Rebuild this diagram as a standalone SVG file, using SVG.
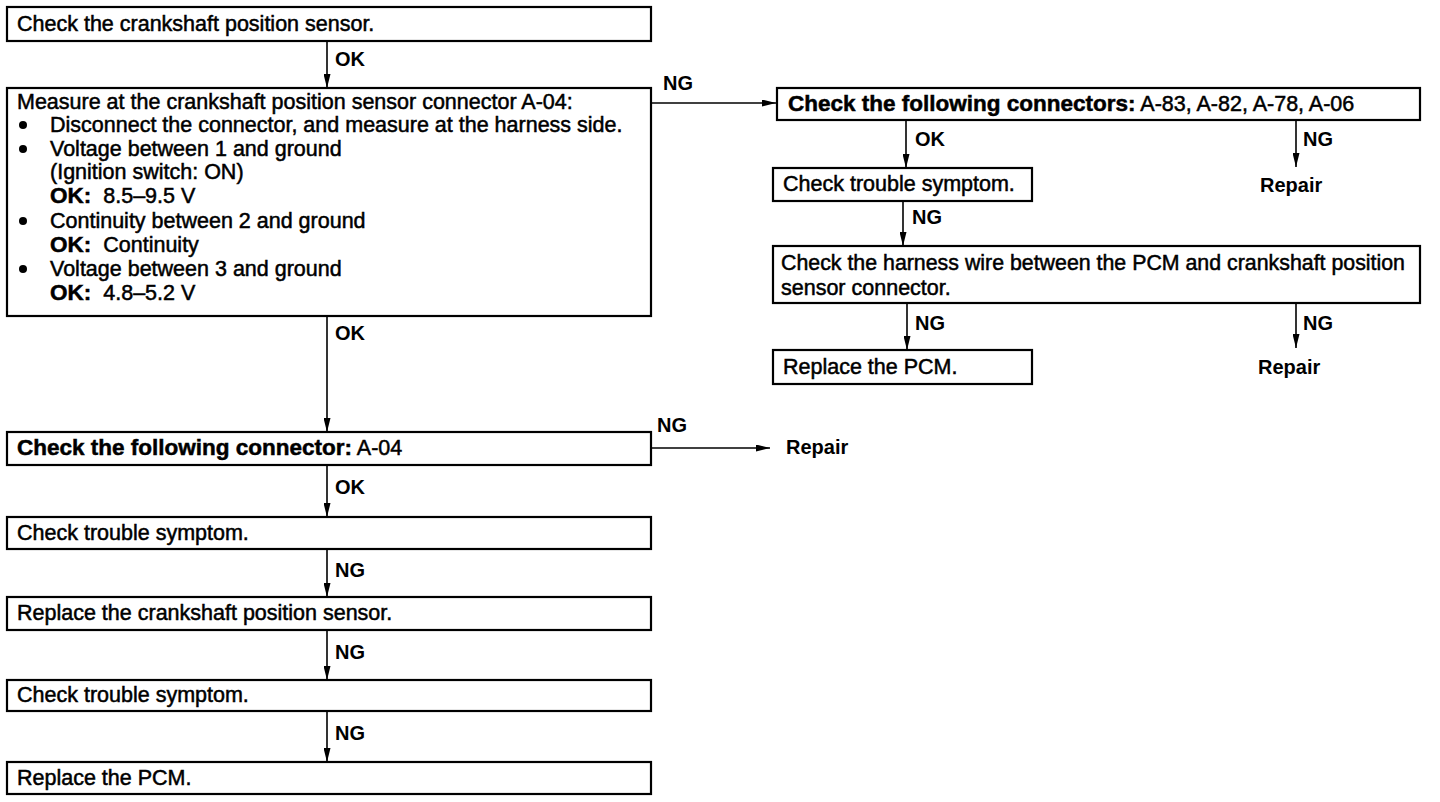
<svg xmlns="http://www.w3.org/2000/svg" width="1440" height="802" viewBox="0 0 1440 802">
<defs>
<style>
.box{fill:#fff;stroke:#000;stroke-width:2.2}
.t{font-family:"Liberation Sans",Arial,Helvetica,sans-serif;font-size:21.5px;fill:#000;stroke:#000;stroke-width:0.5}
.b{font-weight:bold;font-size:22.5px}
.lbl{font-family:"Liberation Sans",Arial,Helvetica,sans-serif;font-size:20px;font-weight:bold;fill:#000}
.conn{stroke:#000;stroke-width:1.6;fill:none}
</style>
<marker id="arr" markerUnits="userSpaceOnUse" markerWidth="14" markerHeight="7" refX="14" refY="3.5" orient="auto">
<path d="M0,0 L14,3.5 L0,7 z" fill="#000"/>
</marker>
</defs>
<rect width="1440" height="802" fill="#fff"/>

<g id="connectors">
<path class="conn" d="M327,41 V88" marker-end="url(#arr)"/>
<path class="conn" d="M651,103 H776" marker-end="url(#arr)"/>
<path class="conn" d="M327,316 V432" marker-end="url(#arr)"/>
<path class="conn" d="M651,448 H770" marker-end="url(#arr)"/>
<path class="conn" d="M327,465 V517" marker-end="url(#arr)"/>
<path class="conn" d="M327,549 V597" marker-end="url(#arr)"/>
<path class="conn" d="M327,630 V680" marker-end="url(#arr)"/>
<path class="conn" d="M327,711 V762" marker-end="url(#arr)"/>
<path class="conn" d="M906,120 V168" marker-end="url(#arr)"/>
<path class="conn" d="M1296,120 V167" marker-end="url(#arr)"/>
<path class="conn" d="M903,201 V246" marker-end="url(#arr)"/>
<path class="conn" d="M907,303 V350" marker-end="url(#arr)"/>
<path class="conn" d="M1296,303 V348" marker-end="url(#arr)"/>
<text class="lbl" x="335" y="66">OK</text>
<text class="lbl" x="663" y="90">NG</text>
<text class="lbl" x="335" y="340">OK</text>
<text class="lbl" x="657" y="432">NG</text>
<text class="lbl" x="335" y="494">OK</text>
<text class="lbl" x="335" y="577">NG</text>
<text class="lbl" x="335" y="659">NG</text>
<text class="lbl" x="335" y="740">NG</text>
<text class="lbl" x="915" y="146">OK</text>
<text class="lbl" x="1303" y="146">NG</text>
<text class="lbl" x="912" y="224">NG</text>
<text class="lbl" x="915" y="330">NG</text>
<text class="lbl" x="1303" y="330">NG</text>
</g>

<g id="n1">
<rect class="box" x="7" y="7" width="644" height="34"/>
<text class="t" x="17" y="31">Check the crankshaft position sensor.</text>
</g>

<g id="n2">
<rect class="box" x="7" y="88" width="644" height="228"/>
<text class="t" x="17" y="109">Measure at the crankshaft position sensor connector A-04:</text>
<circle cx="23" cy="125" r="4"/>
<text class="t" x="50" y="132">Disconnect the connector, and measure at the harness side.</text>
<circle cx="23" cy="149" r="4"/>
<text class="t" x="50" y="156">Voltage between 1 and ground</text>
<text class="t" x="50" y="179">(Ignition switch: ON)</text>
<text class="t" x="50" y="203"><tspan class="b">OK:</tspan><tspan dx="12">8.5–9.5 V</tspan></text>
<circle cx="23" cy="221" r="4"/>
<text class="t" x="50" y="228">Continuity between 2 and ground</text>
<text class="t" x="50" y="252"><tspan class="b">OK:</tspan><tspan dx="12">Continuity</tspan></text>
<circle cx="23" cy="269" r="4"/>
<text class="t" x="50" y="276">Voltage between 3 and ground</text>
<text class="t" x="50" y="300"><tspan class="b">OK:</tspan><tspan dx="12">4.8–5.2 V</tspan></text>
</g>

<g id="n3">
<rect class="box" x="7" y="432" width="644" height="33"/>
<text class="t" x="17" y="455"><tspan class="b">Check the following connector:</tspan> A-04</text>
</g>

<g id="n3repair">
<text class="lbl" x="786" y="454">Repair</text>
</g>

<g id="n4">
<rect class="box" x="7" y="517" width="644" height="32"/>
<text class="t" x="17" y="540">Check trouble symptom.</text>
</g>

<g id="n5">
<rect class="box" x="7" y="597" width="644" height="33"/>
<text class="t" x="17" y="620">Replace the crankshaft position sensor.</text>
</g>

<g id="n6">
<rect class="box" x="7" y="680" width="644" height="31"/>
<text class="t" x="17" y="702">Check trouble symptom.</text>
</g>

<g id="n7">
<rect class="box" x="7" y="762" width="644" height="32"/>
<text class="t" x="17" y="785">Replace the PCM.</text>
</g>

<g id="r1">
<rect class="box" x="777" y="88" width="643" height="32"/>
<text class="t" x="788" y="111"><tspan class="b">Check the following connectors:</tspan> A-83, A-82, A-78, A-06</text>
</g>

<g id="r1repair">
<text class="lbl" x="1260" y="192">Repair</text>
</g>

<g id="r2">
<rect class="box" x="773" y="168" width="259" height="33"/>
<text class="t" x="783" y="191">Check trouble symptom.</text>
</g>

<g id="r3">
<rect class="box" x="773" y="246" width="647" height="57"/>
<text class="t" x="781" y="270" textLength="624" lengthAdjust="spacingAndGlyphs">Check the harness wire between the PCM and crankshaft position</text>
<text class="t" x="781" y="295">sensor connector.</text>
</g>

<g id="r4">
<rect class="box" x="773" y="350" width="259" height="34"/>
<text class="t" x="783" y="374">Replace the PCM.</text>
</g>

<g id="r3repair">
<text class="lbl" x="1258" y="374">Repair</text>
</g>
</svg>
